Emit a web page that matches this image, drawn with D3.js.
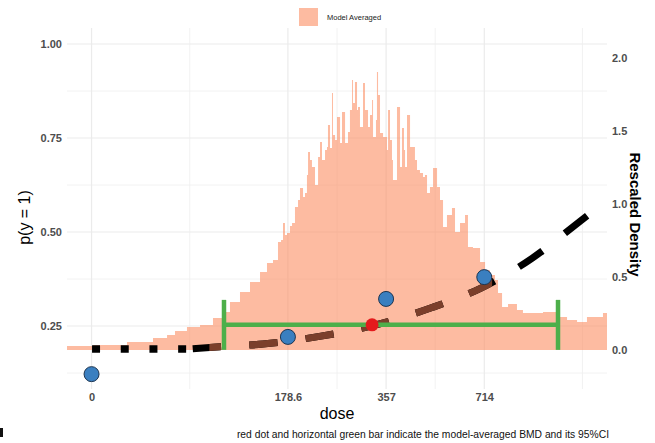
<!DOCTYPE html>
<html>
<head>
<meta charset="utf-8">
<script src="https://cdn.jsdelivr.net/npm/d3@7"></script>
<style>
  html, body { margin: 0; padding: 0; background: #fff; }
  svg { display: block; }
  text { font-family: "Liberation Sans", Arial, sans-serif; }
</style>
</head>
<body>
<svg id="chart" width="655" height="443"></svg>
<script>
// ---------------- data ----------------
// x positions are on the plot's dose axis (log2-spaced dose scale; 0 placed two steps below 178.6)
const doseTickPos = [0, 2, 3, 4];
const doseTickLabels = ["0", "178.6", "357", "714"];
const doseMinorPos = [1, 2.5, 3.5, 5];

// observed proportions at each dose group
const obsPos = [0, 2, 3, 4];
const obsP = [0.122, 0.221, 0.322, 0.380];

// model-averaged dose-response curve
const curveFlatPos = [0, 1];
const curveFlatP = [0.189, 0.189];
const curvePos = [1.0, 1.308, 1.746, 2.337, 2.897, 3.468, 3.967, 4.486, 4.934, 5.25];
const curveP = [0.189, 0.195, 0.202, 0.223, 0.253, 0.299, 0.351, 0.430, 0.520, 0.585];

// model-averaged BMD and 95% CI
const bmdPos = 2.857, bmdP = 0.253;
const bmdlPos = 1.349, bmduPos = 4.751;

// rescaled posterior density of the BMD (histogram outline)
const densPos = [-0.25,0.015,0.361,0.626,0.769,0.850,0.972,1.105,1.237,1.339,1.410,1.512,1.614,1.716,1.787,1.848,1.899,1.930,1.950,1.970,1.991,2.021,2.042,2.072,2.103,2.123,2.154,2.174,2.194,2.205,2.225,2.245,2.276,2.307,2.327,2.347,2.378,2.398,2.408,2.429,2.449,2.459,2.480,2.500,2.531,2.551,2.582,2.612,2.632,2.653,2.663,2.683,2.704,2.714,2.734,2.765,2.785,2.816,2.836,2.857,2.867,2.897,2.907,2.918,2.938,2.969,3.009,3.020,3.040,3.060,3.070,3.111,3.142,3.162,3.182,3.193,3.213,3.244,3.274,3.294,3.315,3.345,3.376,3.396,3.417,3.447,3.478,3.519,3.549,3.580,3.620,3.671,3.702,3.753,3.804,3.834,3.885,3.957,4.008,4.058,4.109,4.140,4.181,4.242,4.333,4.394,4.537,4.598,4.741,4.843,4.945,5.046,5.148,5.209,5.25];
const densVal = [0.027,0.034,0.055,0.082,0.103,0.130,0.158,0.171,0.219,0.260,0.329,0.397,0.466,0.534,0.596,0.616,0.740,0.753,0.870,0.788,0.801,0.849,0.870,0.979,1.027,1.110,1.048,1.075,1.199,1.356,1.301,1.253,1.130,1.322,1.425,1.301,1.370,1.390,1.541,1.384,1.760,1.473,1.438,1.596,1.418,1.630,1.418,1.493,1.644,1.849,1.692,1.836,1.644,1.664,1.527,1.829,1.644,1.527,1.610,1.712,1.459,1.575,1.904,1.747,1.486,1.459,1.370,1.644,1.438,1.301,1.164,1.664,1.253,1.521,1.370,1.253,1.610,1.390,1.390,1.301,1.233,1.212,1.185,1.199,1.075,1.116,1.247,1.116,1.027,0.842,0.925,0.973,0.808,0.870,0.925,0.705,0.699,0.603,0.548,0.514,0.479,0.390,0.295,0.315,0.274,0.253,0.253,0.260,0.226,0.205,0.192,0.226,0.226,0.253,0.240];

const pTicks = [0.25, 0.5, 0.75, 1.0];
const pMinor = [0.125, 0.375, 0.625, 0.875];
const densTicks = [0, 0.5, 1.0, 1.5, 2.0];

// ---------------- layout ----------------
const svg = d3.select("#chart");
const panel = {left: 67, right: 607, top: 28, bottom: 389};

const x = d3.scaleLinear().domain([-0.25, 5.25]).range([panel.left, panel.right]);
const yP = d3.scaleLinear().domain([0, 1]).range([420, 44]);
const yD = d3.scaleLinear().domain([0, 2]).range([350, 58]);

svg.append("rect").attr("width", 655).attr("height", 443).attr("fill", "#fff");

const defs = svg.append("defs");
defs.append("clipPath").attr("id", "panelClip")
  .append("rect").attr("x", panel.left).attr("y", panel.top)
  .attr("width", panel.right - panel.left).attr("height", panel.bottom - panel.top);

// grid
const grid = svg.append("g");
pMinor.forEach(v => grid.append("line").attr("x1", panel.left).attr("x2", panel.right)
  .attr("y1", yP(v)).attr("y2", yP(v)).attr("stroke", "#efefef").attr("stroke-width", 0.8));
pTicks.forEach(v => grid.append("line").attr("x1", panel.left).attr("x2", panel.right)
  .attr("y1", yP(v)).attr("y2", yP(v)).attr("stroke", "#ebebeb").attr("stroke-width", 1.2));
doseMinorPos.forEach(v => grid.append("line").attr("y1", panel.top).attr("y2", panel.bottom)
  .attr("x1", x(v)).attr("x2", x(v)).attr("stroke", "#efefef").attr("stroke-width", 0.8));
doseTickPos.forEach(v => grid.append("line").attr("y1", panel.top).attr("y2", panel.bottom)
  .attr("x1", x(v)).attr("x2", x(v)).attr("stroke", "#ebebeb").attr("stroke-width", 1.2));

const plot = svg.append("g").attr("clip-path", "url(#panelClip)");

// density
const densData = densPos.map((p, i) => ({u: p, d: densVal[i]}));
plot.append("path").datum(densData)
  .attr("d", d3.area().x(d => x(d.u)).y0(yD(0)).y1(d => yD(d.d)).curve(d3.curveStepAfter))
  .attr("fill", "#fc8d62").attr("fill-opacity", 0.6);

// flat dotted part of the curve
const flatData = curveFlatPos.map((p, i) => ({u: p, p: curveFlatP[i]}));
plot.append("path").datum(flatData)
  .attr("d", d3.line().x(d => x(d.u)).y(d => yP(d.p)))
  .attr("fill", "none").attr("stroke", "#000").attr("stroke-width", 7.5)
  .attr("stroke-dasharray", "8,20.7").attr("stroke-dashoffset", -0.5);

// dashed curve
const curveData = curvePos.map((p, i) => ({u: p, p: curveP[i]}));
const curveLine = d3.line().x(d => x(d.u)).y(d => yP(d.p)).curve(d3.curveMonotoneX);
const dash = "28.4,28.3";
plot.append("path").datum(curveData).attr("d", curveLine)
  .attr("fill", "none").attr("stroke", "#000").attr("stroke-width", 7)
  .attr("stroke-dasharray", dash).attr("stroke-dashoffset", 53.7);

defs.append("clipPath").attr("id", "brownClip")
  .append("rect").attr("x", x(1.2)).attr("y", panel.top)
  .attr("width", x(4.08) - x(1.2)).attr("height", panel.bottom - panel.top);
plot.append("g").attr("clip-path", "url(#brownClip)")
  .append("path").datum(curveData).attr("d", curveLine)
  .attr("fill", "none").attr("stroke", "#7b3f2b").attr("stroke-width", 7)
  .attr("stroke-dasharray", dash).attr("stroke-dashoffset", 53.7);

// observed points
plot.selectAll("circle.obs").data(obsPos.map((p, i) => ({u: p, p: obsP[i]})))
  .join("circle").attr("class", "obs")
  .attr("cx", d => x(d.u)).attr("cy", d => yP(d.p)).attr("r", 7.5)
  .attr("fill", "#3a7fc0").attr("stroke", "#1e3550").attr("stroke-width", 1);

// BMD CI bar
const green = "#4daf4a";
plot.append("line").attr("x1", x(bmdlPos)).attr("x2", x(bmduPos))
  .attr("y1", yP(bmdP)).attr("y2", yP(bmdP)).attr("stroke", green).attr("stroke-width", 4.5);
[bmdlPos, bmduPos].forEach(v => plot.append("line")
  .attr("x1", x(v)).attr("x2", x(v)).attr("y1", yP(bmdP) - 25).attr("y2", yP(bmdP) + 25)
  .attr("stroke", green).attr("stroke-width", 4.5));
plot.append("circle").attr("cx", x(bmdPos)).attr("cy", yP(bmdP)).attr("r", 6.5).attr("fill", "#e41a1c");

// axes
const axisColor = "#4d4d4d";
const leftAxis = svg.append("g").attr("transform", `translate(${panel.left},0)`)
  .call(d3.axisLeft(yP).tickValues(pTicks).tickFormat(d3.format(".2f")).tickSize(0).tickPadding(5));
const rightAxis = svg.append("g").attr("transform", `translate(${panel.right},0)`)
  .call(d3.axisRight(yD).tickValues(densTicks).tickFormat(d3.format(".1f")).tickSize(0).tickPadding(5));
const bottomAxis = svg.append("g").attr("transform", `translate(0,${panel.bottom})`)
  .call(d3.axisBottom(x).tickValues(doseTickPos).tickFormat((d, i) => doseTickLabels[i]).tickSize(0).tickPadding(4));
[leftAxis, rightAxis, bottomAxis].forEach(a => {
  a.select(".domain").remove();
  a.selectAll("text").attr("fill", axisColor).style("font-size", "11px").style("font-weight", "bold")
    .style("font-family", "'Liberation Sans', Arial, sans-serif");
});

// axis titles
svg.append("text").attr("x", x(2.5)).attr("y", 419).attr("text-anchor", "middle")
  .style("font-size", "16px").attr("fill", "#000").text("dose");
svg.append("text").attr("transform", `translate(30,${(panel.top + panel.bottom) / 2 + 9}) rotate(-90)`)
  .attr("text-anchor", "middle").style("font-size", "16px").attr("fill", "#000").text("p(y = 1)");
svg.append("text").attr("transform", `translate(630,${(panel.top + panel.bottom) / 2 + 6}) rotate(90)`)
  .attr("text-anchor", "middle").style("font-size", "15px").style("font-weight", "bold")
  .attr("fill", "#000").text("Rescaled Density");

// legend
svg.append("rect").attr("x", 299).attr("y", 8).attr("width", 19).attr("height", 18)
  .attr("fill", "#fc8d62").attr("fill-opacity", 0.6);
svg.append("text").attr("x", 327).attr("y", 19.5).style("font-size", "7.5px").attr("fill", "#222")
  .text("Model Averaged");

// caption
svg.append("text").attr("x", 609).attr("y", 437.5).attr("text-anchor", "end")
  .style("font-size", "10.3px").attr("fill", "#111")
  .text("red dot and horizontal green bar indicate the model-averaged BMD and its 95%CI");

// edge mark at bottom-left
svg.append("rect").attr("x", 0).attr("y", 428).attr("width", 3).attr("height", 9).attr("fill", "#111");
</script>
</body>
</html>
